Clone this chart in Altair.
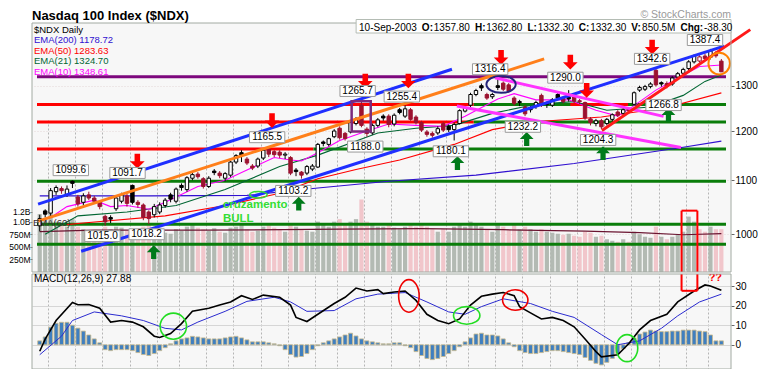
import altair as alt
import pandas as pd

FONT = "Liberation Sans"

# ---------------- data ----------------
opens = [1015,1042,1038,1078,1084,1073,1098,1068,1058,1072,
         1066,1058,1032,1030,1046,1060,1070,1090,1058,1053,
         1040,1035,1040,1052,1072,1060,1090,1082,1104,1112,
         1103,1088,1118,1114,1104,1110,1136,1155,1142,1128,
         1128,1144,1162,1157,1156,1150,1145,1120,1116,1114,
         1122,1126,1177,1172,1188,1206,1195,1198,1216,1256,
         1204,1196,1212,1232,1232,1215,1246,1232,1246,1230,
         1218,1198,1195,1196,1216,1210,1203,1216,1243,1256,
         1280,1300,1280,1275,1300,1306,1302,1272,1264,1252,
         1250,1254,1278,1260,1256,1280,1272,1274,1275,1266,
         1262,1226,1216,1222,1216,1225,1241,1238,1248,1258,
         1290,1292,1298,1336,1307,1305,1304,1320,1329,1340,
         1356,1358,1370,1367,1377,1357.8]
highs = [1035,1045,1085,1090,1088,1090,1099.6,1072,1075,1078,
         1070,1062,1035,1034,1070,1076,1074,1091.7,1062,1056,
         1043,1055,1058,1066,1076,1086,1094,1108,1115,1116,
         1106,1108,1122,1118,1116,1138,1152,1160,1146,1132,
         1145,1163,1165.5,1160,1160,1156,1148,1124,1118,1130,
         1132,1175,1180,1186,1204,1210,1198,1222,1230,1265.7,
         1208,1216,1228,1236,1236,1238,1250,1255.4,1250,1234,
         1222,1202,1199,1210,1220,1214,1218,1247,1254,1284,
         1293,1305,1284,1284,1316.4,1310,1306,1276,1268,1256,
         1254,1266,1282,1264,1272,1284,1276,1290,1278,1270,
         1264,1230,1226,1226,1228,1238,1245,1250,1252,1287,
         1300,1302,1308,1342.6,1310,1310,1322,1332,1342,1360,
         1374,1372,1376,1387.4,1382,1362.8]
lows = [1005,1030,1030,1072,1074,1068,1085,1050,1052,1062,
        1056,1045,1015,1020,1042,1056,1050,1054,1048,1025,
        1018.2,1030,1036,1048,1058,1056,1080,1078,1100,1103,
        1084,1085,1110,1104,1098,1106,1132,1136,1130,1120,
        1124,1140,1146,1146,1144,1142,1110,1108,1103.2,1110,
        1118,1124,1168,1168,1185,1182,1180,1195,1212,1208,
        1188,1192,1208,1222,1208,1210,1236,1228,1222,1214,
        1198,1188,1186,1192,1198,1198,1180.1,1214,1240,1252,
        1276,1288,1268,1270,1290,1288,1284,1255,1254,1232,
        1240,1248,1252,1250,1252,1268,1260,1264,1260,1258,
        1224,1212,1210,1204.3,1212,1220,1230,1234,1240,1255,
        1286,1288,1294,1298,1298,1294,1300,1315,1325,1336,
        1352,1354,1358,1362,1366,1332.3]
closes = [1028,1036,1080,1086,1080,1083,1094,1055,1070,1066,
          1060,1050,1022,1027,1066,1072,1056,1058,1054,1030,
          1028,1050,1053,1062,1064,1083,1086,1105,1111,1107,
          1088,1104,1115,1109,1113,1136,1149,1150,1134,1124,
          1142,1160,1152,1151,1150,1152,1114,1117,1110,1127,
          1128,1172,1174,1184,1200,1186,1184,1218,1226,1212,
          1195,1212,1224,1228,1214,1234,1240,1248,1225,1218,
          1202,1193,1191,1205,1202,1203,1214,1244,1251,1280,
          1289,1295,1272,1280,1296,1292,1288,1260,1262,1237,
          1246,1262,1256,1258,1268,1272,1264,1270,1265,1264,
          1228,1218,1222,1209,1225,1235,1234,1246,1244,1284,
          1296,1298,1304,1302,1304,1299,1318,1328,1338,1356,
          1370,1368,1364,1382,1370.6,1332.3]
volume_m = [1150,1050,1300,1000,950,900,1050,900,850,800,
            780,760,900,850,900,880,820,850,800,900,
            950,850,800,780,760,850,820,900,950,880,
            850,820,870,800,780,880,900,950,850,800,
            820,900,950,880,850,800,950,900,850,820,
            800,1000,950,900,1000,1050,950,1000,1050,1440,
            1000,950,900,900,950,880,850,900,950,900,
            950,900,850,800,850,800,900,950,900,1000,
            950,900,850,800,950,900,850,950,850,900,
            850,800,850,800,780,760,740,760,720,700,
            800,780,700,720,650,620,600,650,600,800,
            750,700,680,900,700,650,700,750,800,1100,
            1000,850,800,900,850,850.5]

vol_ema_i = [0, 10, 30, 55, 70, 85, 100, 110, 118, 125]
vol_ema_v = [800, 830, 830, 850, 860, 840, 810, 780, 740, 760]

ema200_i = [0, 20, 38, 51, 64, 80, 98, 118, 125]
ema200_v = [1070, 1070, 1071, 1085, 1098, 1110, 1133, 1166, 1178.72]
ema50_i = [5, 8, 23, 34, 44, 51, 58, 66, 76, 83, 91, 103, 115, 125]
ema50_v = [1017, 1020, 1033, 1052, 1075, 1103, 1121, 1140, 1172, 1203, 1220, 1230, 1251, 1283.63]
ema21_i = [1, 7, 16, 25, 34, 44, 51, 62, 69, 76, 83, 91, 98, 104, 112, 118, 122, 125]
ema21_v = [1000, 1033, 1040, 1052, 1082, 1127, 1150, 1196, 1206, 1212, 1238, 1258, 1264, 1245, 1252, 1278, 1310, 1324.70]
ema10_i = [2, 5, 10, 13, 16, 20, 23, 29, 34, 38, 43, 46, 48, 51, 55, 60, 64, 69, 74, 78,
           84, 87, 91, 97, 102, 106, 109, 113, 117, 121, 125]
ema10_v = [1030, 1050, 1062, 1050, 1052, 1045, 1058, 1088, 1100, 1120, 1145, 1140, 1138, 1155, 1180,
           1200, 1215, 1212, 1210, 1232, 1270, 1282, 1268, 1268, 1245, 1232, 1255, 1290, 1318, 1345, 1348.61]

macd_i = [0,1,3,6,7,9,11,13,15,17,19,21,22,24,26,28,31,33,35,37,39,41,44,46,47,49,51,54,56,58,60,62,63,
          65,67,69,71,73,75,77,79,81,83,85,87,88,90,92,94,96,98,100,102,103,106,108,110,112,115,117,120,122,123,125]
macd_v = [-3.3,2.9,12.4,21.6,20.5,20.6,18.7,11.6,12.4,11.6,9.2,4.4,3.7,5.7,10.8,17.1,18.7,20.3,21.9,25.1,23.2,
          25.4,24.3,20.3,14,11.9,15.6,21.1,24.3,29,27.5,28.2,26.2,27,27.5,22.7,15.6,12.4,10.8,13.2,20.3,24.8,
          25.9,26.7,25.1,19.5,16.3,13.2,14,12.4,9.2,2.9,-3.5,-6.2,-5.1,0.5,7.6,12.4,15.6,21.9,27.5,30.6,30.1,27.88]
signal_i = [0,4,6,10,15,19,23,26,29,34,38,43,46,49,54,58,62,67,71,75,78,81,85,90,94,98,103,106,110,114,117,121,125]
signal_v = [-5.1,4.4,12.4,16.8,14.8,12.4,8.4,7.6,11.6,17.1,22.2,24.3,21.9,17.1,17.5,23.5,25.9,26.7,21.9,16.8,
            15.6,19.5,23.5,21.1,17.1,14,5.2,0,2,8.4,14.8,21.9,25.9]
hist_v = [2,4,9,11,11.5,11.5,10,8.5,7,5,
          3,1,-2.5,-3,-2.5,-2.5,-2.5,-3,-4,-5,
          -5.5,-4.5,-3,-1.5,0.5,2,3,3.5,4.3,4,
          3.5,3,3,3,3.5,4,4.3,3.5,2.5,1.5,
          1.5,1.5,1,0.5,-0.5,-2.5,-5,-6.3,-6,-4.5,
          -2.5,-0.5,1,2,3,4,5,5.9,4.5,3,
          2,1.5,1,0.5,0.5,1,1,-0.5,-1.5,-3.5,
          -5.5,-7,-7.6,-7,-6,-4.5,-3,-1,1.5,3.5,
          5.5,5.9,5,5,4.5,3,1,-1,-3,-4,
          -4.5,-4.5,-4,-3.5,-3,-3,-3.5,-4,-4.5,-5,
          -6.5,-8,-9.5,-10.3,-9,-7,-4.5,-2,1,3.5,
          5.5,6.5,7.5,7,6.7,6.7,7,7,7.5,7.5,
          7.5,7,6.7,5,2,2]

week_lines = [1.5, 6.5, 11.5, 16.5, 21.5, 25.5, 30.5, 35.5, 40.5, 45.5, 50.5, 54.5, 59.5,
              64.5, 69.5, 74.5, 78.5, 83.5, 88.5, 93.5, 98.5, 103.5, 108.5, 113.5, 118.5, 122.5]
price_ticks = [1000, 1100, 1200, 1300]
volume_ticks = [250, 500, 750, 1000, 1200]
macd_ticks = [0, 10, 20, 30]

# annotations drawn on the chart (in data units)
level_price = [1320.7, 1257.4, 1257.4, 1257.4, 1219.2, 1219.2, 1162.3, 1162.3, 1098.3, 1017.7, 982.2]
level_from = [-0.5, -0.5, 79.6, 97.3, -0.5, 79.6, -0.5, 50.2, -0.5, -0.5, -0.5]
level_to = [125.85, 79.6, 125.85, 107.9, 79.6, 125.85, 50.2, 125.85, 125.85, 125.85, 125.85]
level_kind = ["purple", "red", "green", "red", "red", "green", "red", "green", "green", "green", "green"]

trend_names = ["blue_hi", "blue_lo", "orange", "mag_hi", "mag_lo", "red_up"]
trend_i0 = [-0.3, 7.6, -0.3, 83.5, 76.5, 103.1]
trend_p0 = [1054.7, 970.3, 1023.5, 1318.5, 1254.2, 1201.1]
trend_i1 = [75.6, 125.5, 92.5, 114.4, 117.6, 130.3]
trend_p1 = [1338.5, 1394.3, 1363.2, 1231.4, 1165.6, 1435.5]

down_i = [17.9, 42.6, 59.7, 67.6, 84.6, 97.3, 100.3, 112.3]
down_p = [1137.7, 1222.3, 1310.9, 1310.9, 1366.7, 1355.3, 1289.2, 1391.9]
up_i = [20.9, 47.5, 76.6, 89.3, 103.3, 115.3]
up_p = [968.8, 1055.5, 1134.0, 1183.2, 1154.0, 1234.6]

label_text = ["1099.6", "1091.7", "1015.0", "1018.2", "1165.5", "1103.2", "1265.7", "1188.0", "1255.4",
              "1180.1", "1316.4", "1232.2", "1290.0", "1204.3", "1342.6", "1266.8", "1387.4"]
label_i = [5.7, 16.1, 11.5, 19.6, 41.7, 46.5, 58.3, 59.7, 66.4, 75.4, 82.6, 88.6, 96.4, 102.4, 112.3, 114.4, 122.0]
label_p = [1119.8, 1114.3, 996.6, 999.9, 1187.0, 1079.5, 1288.0, 1167.5, 1275.3, 1157.8, 1338.5, 1209.0,
           1318.6, 1181.2, 1363.2, 1256.3, 1409.4]

header_parts = ["10-Sep-2003", "O:", "1357.80", "H:", "1362.80", "L:", "1332.30",
                "C:", "1332.30", "V:", "850.5M", "Chg:", "-38.30"]
header_bold = [False, True, False, True, False, True, False, True, False, True, False, True, False]

legend_text = ["$NDX Daily", "EMA(200) 1178.72", "EMA(50) 1283.63", "EMA(21) 1324.70", "EMA(10) 1348.61"]
legend_color = ["#000000", "#3010d0", "#ff0000", "#006633", "#ff00ff"]

# ---------------- layout & style ----------------
PAD_L, PAD_T = 24, 15
W, H1, GAP, H2 = 699, 249, 2, 95
HT = H1 + GAP + H2
M0 = H1 + GAP
XDOM = [-0.5, 125.85]
PDOM = [935.4, 1452.4]
VDOM = [0, 4944]
MDOM = [-12.4, 36.2]
SX = W / 716.0
SY1 = H1 / 264.0
SY2 = H2 / 102.0


def px(xr):
    return (xr - 26) * SX


def py(yr):
    return (yr - 14) * SY1


def my(yr):
    return M0 + (yr - 280) * SY2


REG = {c: 0.556 for c in "0123456789"}
REG.update({".": 0.278, "-": 0.333, "S": 0.667, "e": 0.556, "p": 0.556, "M": 0.833})
BLD = {"O": 0.778, ":": 0.333, "H": 0.722, "L": 0.611, "C": 0.722, "V": 0.667, "h": 0.611, "g": 0.611}


def text_width(s, bold, size):
    table = BLD if bold else REG
    return sum(table.get(ch, 0.56) for ch in s) * size


COLORS = {"purple": "#7d087d", "red": "#ff0000", "green": "#0a7d0a"}
TREND_COLORS = {"blue_hi": "#1f2fff", "blue_lo": "#1f2fff", "orange": "#ff7f1a",
                "mag_hi": "#ff33ff", "mag_lo": "#ff33ff", "red_up": "#ff1a1a"}
CAND_RED = "#9c1230"

ARROW_DOWN = "M-0.38,-1L0.38,-1L0.38,0L1,0L0,1L-1,0L-0.38,0Z"
ARROW_UP = "M-0.38,1L0.38,1L0.38,0L1,0L0,-1L-1,0L-0.38,0Z"
BOX = "M-1,-0.31L1,-0.31L1,0.31L-1,0.31Z"


def ellipse(rx, ry):
    m = max(rx, ry)
    a, b = rx / m, ry / m
    path = f"M{-a:.3f},0A{a:.3f},{b:.3f} 0 1,0 {a:.3f},0A{a:.3f},{b:.3f} 0 1,0 {-a:.3f},0Z"
    return path, (2 * m) ** 2


XSC = alt.Scale(domain=XDOM, nice=False, zero=False)
XAX = alt.Axis(values=week_lines, grid=True, gridColor="#b5b5b5", gridDash=[2, 2], labels=False,
               ticks=False, domain=False, title=None)
PSC = alt.Scale(type="log", domain=PDOM, range=[H1, 0], nice=False, zero=False)
PAX = alt.Axis(orient="right", values=price_ticks, format="d", grid=True, gridColor="#e2d6d6",
               gridDash=[1, 2], tickSize=3, tickColor="#666666", labelPadding=1, labelFontSize=10,
               domain=False, title=None)
VSC = alt.Scale(domain=VDOM, range=[H1, 0], nice=False, zero=False)
VAX = alt.Axis(orient="left", values=volume_ticks, grid=False, tickSize=2, tickColor="#666666",
               labelPadding=0, labelFontSize=8.5, domain=False, title=None,
               labelExpr="datum.value >= 1000 ? format(datum.value / 1000, '.1f') + 'B' : datum.value + 'M'")
MSC = alt.Scale(domain=MDOM, range=[HT, M0], nice=False, zero=False)
MAX = alt.Axis(orient="right", values=macd_ticks, grid=True, gridColor="#d6d6d6", tickSize=3,
               tickColor="#666666", labelPadding=1, labelFontSize=10, domain=False, title=None)


def X(f):
    return alt.X(f + ":Q", scale=XSC, axis=XAX)


def YP(f):
    return alt.Y(f + ":Q", scale=PSC, axis=PAX)


def YV(f):
    return alt.Y(f + ":Q", scale=VSC, axis=VAX)


def YM(f):
    return alt.Y(f + ":Q", scale=MSC, axis=MAX)


def text_at(s, x, y, color="#000000", size=10, weight="normal", align="left", baseline="alphabetic"):
    return alt.Chart(pd.DataFrame({"t": [s]})).mark_text(
        align=align, baseline=baseline, color=color, fontSize=size, fontWeight=weight, font=FONT
    ).encode(x=alt.value(x), y=alt.value(y), text="t:N")


# ---------------- tables ----------------
N = len(closes)
prev = [closes[0]] + closes[:-1]
df = pd.DataFrame({"i": list(range(N)), "o": opens, "h": highs, "l": lows, "c": closes,
                   "v": volume_m, "hist": hist_v, "z": [0] * N})
df["col"] = [CAND_RED if c < p else "#000000" for c, p in zip(closes, prev)]
df["fc"] = [col if c < o else "#ffffff" for col, c, o in zip(df["col"], closes, opens)]
df["vc"] = ["#f1c6cb" if c < p else "#b3bab3" for c, p in zip(closes, prev)]

ema_rows = []
for name, ii, vv, col in [("e200", ema200_i, ema200_v, "#3010d0"), ("e50", ema50_i, ema50_v, "#ff0000"),
                          ("e21", ema21_i, ema21_v, "#006633"), ("e10", ema10_i, ema10_v, "#ff00ff")]:
    for a, b in zip(ii, vv):
        ema_rows.append({"id": name, "i": a, "p": b, "col": col})
ema_df = pd.DataFrame(ema_rows)

lev_df = pd.DataFrame({"p": level_price, "i0": level_from, "i1": level_to,
                       "col": [COLORS[k] for k in level_kind]})
tr_rows = []
for n, a0, p0, a1, p1 in zip(trend_names, trend_i0, trend_p0, trend_i1, trend_p1):
    tr_rows.append({"id": n, "i": a0, "p": p0, "col": TREND_COLORS[n]})
    tr_rows.append({"id": n, "i": a1, "p": p1, "col": TREND_COLORS[n]})
tr_df = pd.DataFrame(tr_rows)

# ---------------- volume group ----------------
vol_group = alt.layer(
    alt.Chart(df).mark_bar(size=4.2).encode(x=X("i"), y=YV("v"), y2=alt.Y2("z"),
                                             color=alt.Color("vc:N", scale=None)),
    alt.Chart(pd.DataFrame({"i": vol_ema_i, "v": vol_ema_v})).mark_line(
        color="#6a1430", strokeWidth=1.2).encode(x=X("i"), y=YV("v")),
)

# ---------------- price group ----------------
price_layers = [
    alt.Chart(lev_df).mark_rule(strokeWidth=3).encode(
        x=X("i0"), x2=alt.X2("i1"), y=YP("p"), color=alt.Color("col:N", scale=None)),
    alt.Chart(ema_df).mark_line(strokeWidth=1.1).encode(
        x=X("i"), y=YP("p"), detail="id:N", color=alt.Color("col:N", scale=None)),
    alt.Chart(df).mark_rule(strokeWidth=1).encode(
        x=X("i"), y=YP("l"), y2=alt.Y2("h"), color=alt.Color("col:N", scale=None)),
    alt.Chart(df).mark_bar(size=3.4, strokeWidth=1).encode(
        x=X("i"), y=YP("o"), y2=alt.Y2("c"), fill=alt.Fill("fc:N", scale=None),
        stroke=alt.Stroke("col:N", scale=None)),
    alt.Chart(tr_df).mark_line(strokeWidth=3).encode(
        x=X("i"), y=YP("p"), detail="id:N", color=alt.Color("col:N", scale=None)),
    alt.Chart(pd.DataFrame({"i0": [57.2], "i1": [60.7], "p0": [1264.7], "p1": [1199.1]})).mark_rect(
        fillOpacity=0, stroke="#7b2a7b", strokeWidth=2.5).encode(
        x=X("i0"), x2=alt.X2("i1"), y=YP("p0"), y2=alt.Y2("p1")),
]
for ci, cp, rx, ry, col, sw in [(84.6, 1303.3, 15, 9, "#23237a", 2), (40.1, 1072.2, 9, 3.5, "#33dd33", 1.5),
                                 (124.6, 1351.9, 11, 11.5, "#ff8000", 2)]:
    path, size = ellipse(rx * SX, ry * SY1)
    price_layers.append(alt.Chart(pd.DataFrame({"i": [ci], "p": [cp]})).mark_point(
        shape=path, size=size, filled=False, color=col, strokeWidth=sw, opacity=1).encode(x=X("i"), y=YP("p")))
price_layers += [
    alt.Chart(pd.DataFrame({"i": down_i, "p": down_p})).mark_point(
        shape=ARROW_DOWN, size=215, filled=True, color="#ff0000", opacity=1).encode(x=X("i"), y=YP("p")),
    alt.Chart(pd.DataFrame({"i": up_i, "p": up_p})).mark_point(
        shape=ARROW_UP, size=190, filled=True, color="#007a1a", opacity=1).encode(x=X("i"), y=YP("p")),
    alt.Chart(pd.DataFrame({"t": label_text, "i": label_i, "p": label_p})).mark_point(
        shape=BOX, size=1250, filled=True, fill="#ffffff", stroke="#9a9a9a", strokeWidth=1,
        opacity=1).encode(x=X("i"), y=YP("p")),
    alt.Chart(pd.DataFrame({"t": label_text, "i": label_i, "p": label_p})).mark_text(
        fontSize=10, font=FONT, color="#000000", baseline="middle").encode(x=X("i"), y=YP("p"), text="t:N"),
    alt.Chart(pd.DataFrame({"t": ["cruzamento", "BULL"], "i": [33.6, 33.6], "p": [1047.5, 1021.5]})).mark_text(
        fontSize=11.5, font=FONT, fontWeight="bold", color="#33dd33", align="left", baseline="alphabetic").encode(
        x=X("i"), y=YP("p"), text="t:N"),
    alt.Chart(pd.DataFrame({"i": [117.7, 120.6], "p0": [1042.5, 1042.5], "p1": [PDOM[0], PDOM[0]]})).mark_rule(
        color="#ff0000", strokeWidth=2).encode(x=X("i"), y=YP("p0"), y2=alt.Y2("p1")),
    alt.Chart(pd.DataFrame({"i0": [117.7], "i1": [120.6], "p": [1042.5]})).mark_rule(
        color="#ff0000", strokeWidth=2).encode(x=X("i0"), x2=alt.X2("i1"), y=YP("p")),
]
price_group = alt.layer(*price_layers)

# ---------------- MACD group ----------------
macd_layers = [
    alt.Chart(df).mark_bar(size=4, fill="#3f7fc0", stroke="#c9b98a", strokeWidth=0.8).encode(
        x=X("i"), y=YM("hist"), y2=alt.Y2("z")),
    alt.Chart(pd.DataFrame({"i": signal_i, "m": signal_v})).mark_line(color="#2b2bd0", strokeWidth=1).encode(
        x=X("i"), y=YM("m")),
    alt.Chart(pd.DataFrame({"i": macd_i, "m": macd_v})).mark_line(color="#000000", strokeWidth=1.6).encode(
        x=X("i"), y=YM("m")),
]
for ci, cm, rx, ry, col in [(24.5, 9.5, 13.5, 14, "#22dd22"), (78.3, 15, 13.5, 9.5, "#22dd22"),
                            (107.7, -1.7, 11, 14.5, "#22dd22"), (67.7, 25, 10.5, 17.5, "#ee0000"),
                            (87.2, 22.9, 13, 11, "#ee0000")]:
    path, size = ellipse(rx * SX, ry * SY2)
    macd_layers.append(alt.Chart(pd.DataFrame({"i": [ci], "m": [cm]})).mark_point(
        shape=path, size=size, filled=False, color=col, strokeWidth=1.6, opacity=1).encode(x=X("i"), y=YM("m")))
macd_layers += [
    alt.Chart(pd.DataFrame({"i": [117.7, 120.6], "m0": [MDOM[1], MDOM[1]], "m1": [27.6, 27.6]})).mark_rule(
        color="#ff0000", strokeWidth=2).encode(x=X("i"), y=YM("m0"), y2=alt.Y2("m1")),
    alt.Chart(pd.DataFrame({"i0": [117.7], "i1": [120.6], "m": [27.6]})).mark_rule(
        color="#ff0000", strokeWidth=2).encode(x=X("i0"), x2=alt.X2("i1"), y=YM("m")),
    alt.Chart(pd.DataFrame({"t": ["??"], "i": [123.9], "m": [34.3]})).mark_text(
        fontSize=11, font=FONT, fontWeight="bold", color="#ff0000", baseline="middle").encode(
        x=X("i"), y=YM("m"), text="t:N"),
]
macd_group = alt.layer(*macd_layers)

# ---------------- frames and texts ----------------
one = pd.DataFrame({"a": [0]})
overlay = [
    alt.Chart(one).mark_rect(color="#ffffff").encode(
        x=alt.value(-1), x2=alt.value(W + 1), y=alt.value(H1), y2=alt.value(M0)),
    alt.Chart(one).mark_rect(fillOpacity=0, stroke="#a2aaa2", strokeWidth=1).encode(
        x=alt.value(0), x2=alt.value(W), y=alt.value(0), y2=alt.value(H1)),
    alt.Chart(one).mark_rect(fillOpacity=0, stroke="#a2aaa2", strokeWidth=1).encode(
        x=alt.value(0), x2=alt.value(W), y=alt.value(M0), y2=alt.value(HT)),
    alt.Chart(one).mark_rect(fill="#ffffff", stroke="#b4bcb4", strokeWidth=1).encode(
        x=alt.value(px(358)), x2=alt.value(W), y=alt.value(-3.5), y2=alt.value(10)),
    text_at("Nasdaq 100 Index ($NDX)", 0, -3, size=13, weight="bold"),
    text_at("\u00a9 StockCharts.com", W, -5, color="#9a9a9a", size=10.5, align="right"),
    text_at("EMA(60)", px(27), py(229), color="#3a2a30", size=9.5),
    text_at("MACD(12,26,9) 27.88", px(28), my(288.5), size=10),
]
for k, (s, col) in enumerate(zip(legend_text, legend_color)):
    overlay.append(text_at(s, px(28), 10 + 10.4 * k, color=col, size=9.5))
hx = px(361)
for s, bold in zip(header_parts, header_bold):
    overlay.append(text_at(s, hx, 7.5, size=10, weight="bold" if bold else "normal"))
    hx += text_width(s, bold, 10) + (0.8 if bold else 5.0)
overlay_group = alt.layer(*overlay)

chart = alt.layer(vol_group, price_group, macd_group, overlay_group).resolve_scale(
    y="independent"
).properties(
    width=W, height=HT,
    padding={"left": PAD_L, "top": PAD_T, "right": 750 - PAD_L - W, "bottom": 0},
    autosize=alt.AutoSizeParams(type="none"),
).configure_view(stroke=None, fill="#f7f7f7").configure_axis(labelFont=FONT, labelColor="#000000")

chart.save("out.html", embed_options={"renderer": "svg", "actions": False})
